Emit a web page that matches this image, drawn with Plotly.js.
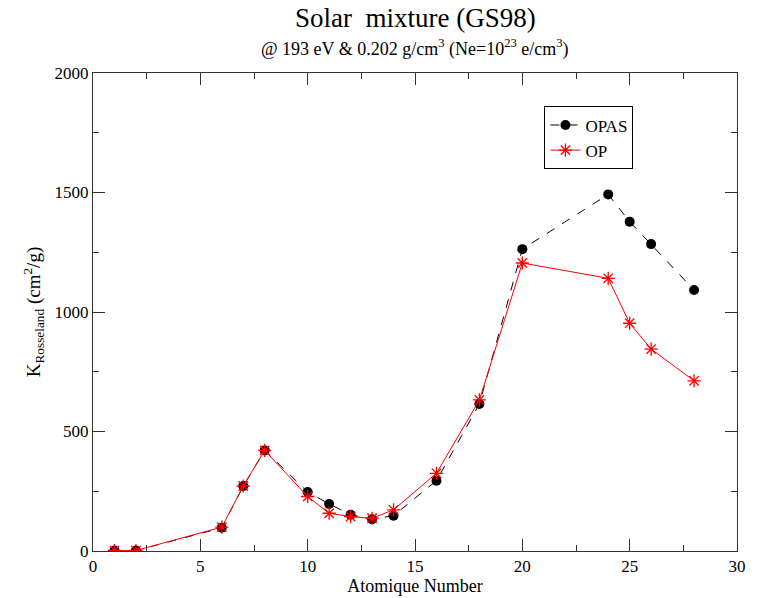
<!DOCTYPE html>
<html>
<head>
<meta charset="utf-8">
<script src="https://cdn.plot.ly/plotly-3.0.1.min.js"></script>
<style>html,body{margin:0;padding:0;background:#fff;}#chart{width:757px;height:598px;}</style>
</head>
<body>
<div id="chart"></div>
<script>
var atomicNumber = [1, 2, 6, 7, 8, 10, 11, 12, 13, 14, 16, 18, 20, 24, 25, 26, 28];
var opasValues = [2, 2, 97, 272, 421, 247, 197, 152, 133, 148, 294, 615, 1263, 1492, 1378, 1284, 1092];
var opValues = [2, 2, 100, 272, 421, 228, 158, 144, 137, 172, 325, 632, 1205, 1141, 953, 845, 712];
var seriesNames = ["OPAS", "OP"];

var serif = "Liberation Serif";

var traces = [
  {
    x: atomicNumber, y: opasValues, name: seriesNames[0],
    type: "scatter", mode: "lines+markers",
    line: {color: "black", width: 1, dash: "dash"},
    marker: {symbol: "circle", size: 10, color: "black"}
  },
  {
    x: atomicNumber, y: opValues, name: seriesNames[1],
    type: "scatter", mode: "lines+markers",
    line: {color: "red", width: 1},
    marker: {symbol: "asterisk-open", size: 11, color: "red", line: {color: "red", width: 1.3}}
  }
];

var layout = {
  width: 757, height: 598,
  margin: {l: 93, r: 20, t: 73, b: 47},
  paper_bgcolor: "white", plot_bgcolor: "white",
  font: {family: serif, color: "black", size: 16},
  showlegend: true,
  legend: {
    x: 0.701, y: 0.93, xanchor: "left", yanchor: "top",
    bordercolor: "black", borderwidth: 1, bgcolor: "white",
    font: {family: serif, size: 17, color: "black"},
    tracegroupgap: 0, itemwidth: 30
  },
  xaxis: {
    range: [0, 30], dtick: 5, tick0: 0,
    showline: true, linecolor: "#333", linewidth: 1, mirror: "ticks",
    ticks: "inside", ticklen: 12, tickcolor: "#333",
    minor: {dtick: 2.5, ticks: "inside", ticklen: 6, tickcolor: "#333", showgrid: false},
    showgrid: false, zeroline: false,
    tickfont: {family: serif, size: 17, color: "black"},
    title: {text: "Atomique Number", font: {family: serif, size: 18, color: "black"}, standoff: 2}
  },
  yaxis: {
    range: [0, 2000], dtick: 500, tick0: 0,
    showline: true, linecolor: "#333", linewidth: 1, mirror: "ticks",
    ticks: "inside", ticklen: 12, tickcolor: "#333",
    minor: {dtick: 250, ticks: "inside", ticklen: 6, tickcolor: "#333", showgrid: false},
    showgrid: false, zeroline: false,
    tickfont: {family: serif, size: 17, color: "black"},
    title: {text: "K<sub>Rosseland</sub> (cm<sup>2</sup>/g)", font: {family: serif, size: 19, color: "black"}, standoff: 8}
  },
  annotations: [
    {
      text: "Solar  mixture (GS98)", xref: "paper", yref: "paper",
      x: 0.5, y: 1, yshift: 55, xanchor: "center", yanchor: "middle",
      showarrow: false, font: {family: serif, size: 27, color: "black"}
    },
    {
      text: "@ 193 eV &amp; 0.202 g/cm<sup>3</sup> (Ne=10<sup>23</sup> e/cm<sup>3</sup>)", xref: "paper", yref: "paper",
      x: 0.5, y: 1, yshift: 25, xanchor: "center", yanchor: "middle",
      showarrow: false, font: {family: serif, size: 18, color: "black"}
    }
  ]
};

Plotly.newPlot("chart", traces, layout, {displayModeBar: false, staticPlot: true});
</script>
</body>
</html>
